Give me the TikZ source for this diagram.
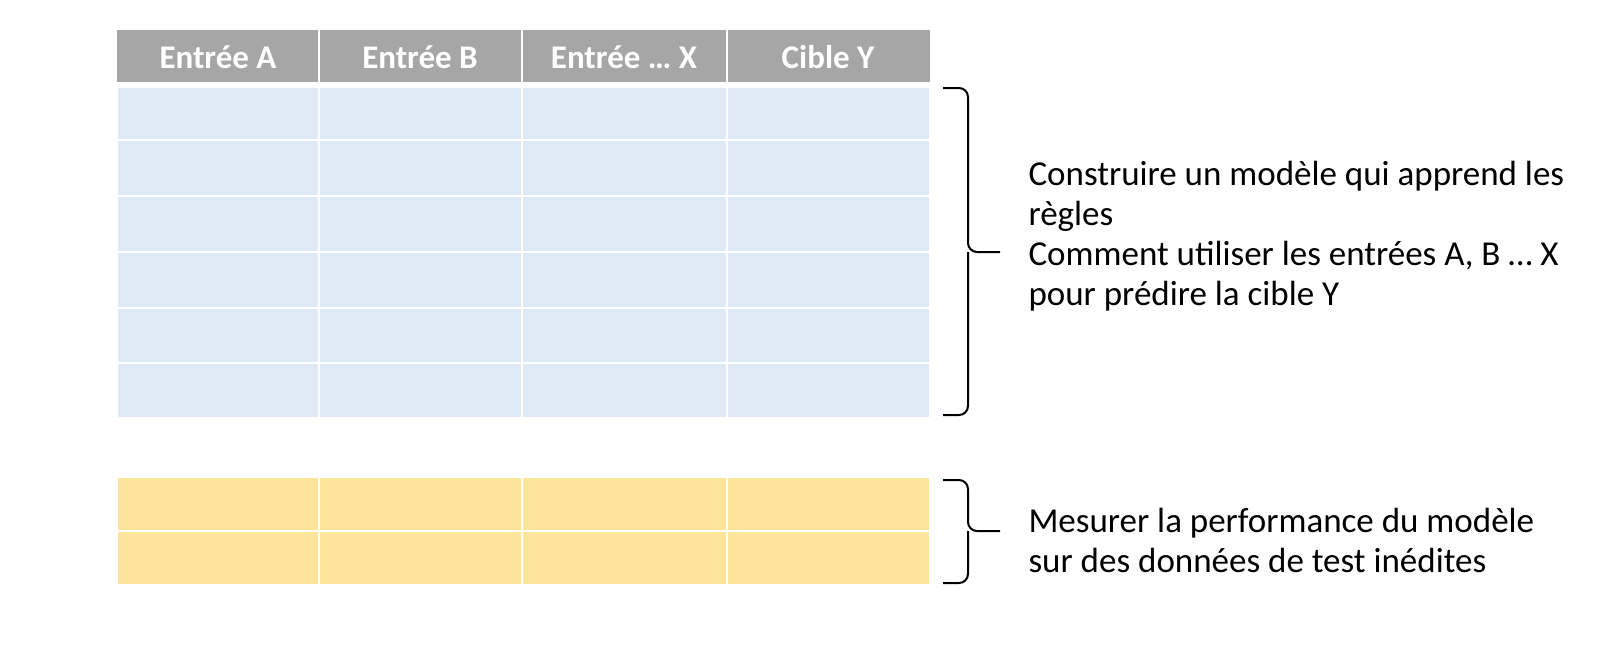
\documentclass[tikz,border=0pt]{standalone}
\usepackage{fontspec}
\setmainfont{Carlito}
\definecolor{hdr}{RGB}{166,166,166}
\definecolor{bl}{RGB}{222,233,245}
\definecolor{yl}{RGB}{255,229,153}
\begin{document}
\begin{tikzpicture}[x=1pt,y=-1pt,
 cell/.style={draw=white,line width=1.5pt},
 brace/.style={draw,line width=2pt,rounded corners=9},
 hd/.style={text=white,font=\fontsize{33}{38}\selectfont\bfseries},
 lbl/.style={anchor=west,align=left,font=\fontsize{35}{40}\selectfont}]
\useasboundingbox (0,0) rectangle (1605,656);
\foreach \a/\b in {117/319,319/522,522/727,727/930}{
 \fill[hdr] (\a,30) rectangle (\b,82);
 \foreach \t/\u in {87/140,140/196,196/252,252/308,308/363,363/418}
  \filldraw[cell,fill=bl] (\a,\t) rectangle (\b,\u);
 \foreach \t/\u in {477/531,531/585}
  \filldraw[cell,fill=yl] (\a,\t) rectangle (\b,\u);
}
\draw[white,line width=1.5pt] (319,30)--(319,82) (522,30)--(522,82) (727,30)--(727,82);
\node[hd] (h1) at (218,57) {Entrée A};
\node[hd] (h2) at (420,57) {Entrée B};
\node[hd] (h3) at (624,57) {Entrée … X};
\node[hd] (h4) at (828,57) {Cible Y};
\draw[brace] (943,88) -- (968,88) -- (968,252) -- (1000,252);
\draw[brace] (943,415) -- (968,415) -- (968,252);
\draw[brace] (943,480) -- (968,480) -- (968,531) -- (1000,531);
\draw[brace] (943,583) -- (968,583) -- (968,531);
\node[lbl] (t1) at (1025,236) {Construire un modèle qui apprend les\\règles\\Comment utiliser les entrées A, B … X\\pour prédire la cible Y};
\node[lbl] (t2) at (1025,540) {Mesurer la performance du modèle\\sur des données de test inédites};
\end{tikzpicture}
\end{document}
